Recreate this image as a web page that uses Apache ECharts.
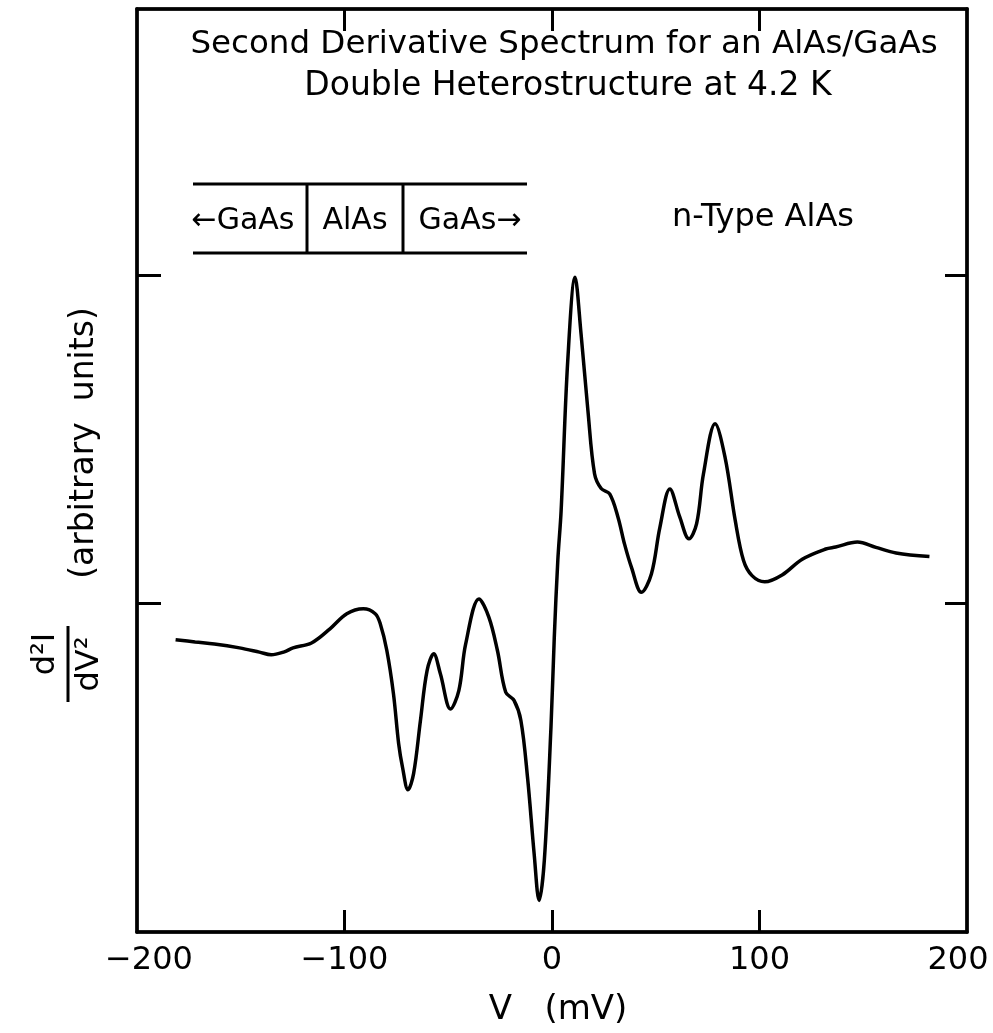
<!DOCTYPE html>
<html>
<head>
<meta charset="utf-8">
<script src="https://cdn.jsdelivr.net/npm/echarts@6/dist/echarts.min.js"></script>
<style>
html,body{margin:0;padding:0;background:#fff;overflow:hidden;}
#chart{width:993px;height:1033px;}
</style>
</head>
<body>
<div id="chart"></div>
<script>
// Bias voltage (mV)
var voltage = [-181.4,-172,-162.7,-150.6,-141,-135.3,-129,-124.8,-115.9,-107,-98.9,-90.9,-85.2,-82.8,-79.6,-76.4,-73.9,-72,-69.4,-66.7,-63.4,-60.2,-57,-53.8,-48.9,-44.9,-41.6,-35.2,-30.4,-26.3,-22.3,-18.3,-15,-11.8,-8.6,-6.2,-3.7,-0.5,1.1,2.8,4.4,7.6,11.1,14,17.3,20.5,23.7,27.8,31.8,35,38.3,43.1,47.9,52,56.8,61.6,66,69.7,73,78.6,83.4,88.3,92.3,96.4,102.5,110.9,120.6,131.9,136.7,147.2,156.1,165.8,181.9];
// d2I/dV2 (arbitrary units)
var d2I = [-0.11,-0.117,-0.123,-0.135,-0.148,-0.156,-0.147,-0.135,-0.12,-0.077,-0.031,-0.016,-0.031,-0.061,-0.143,-0.275,-0.427,-0.5,-0.567,-0.518,-0.356,-0.204,-0.153,-0.214,-0.321,-0.265,-0.123,0.014,-0.042,-0.143,-0.27,-0.295,-0.356,-0.529,-0.762,-0.904,-0.782,-0.377,-0.103,0.131,0.283,0.74,0.993,0.821,0.588,0.395,0.35,0.334,0.263,0.18,0.11,0.034,0.09,0.232,0.349,0.263,0.197,0.243,0.395,0.547,0.445,0.253,0.131,0.085,0.066,0.087,0.135,0.166,0.172,0.187,0.171,0.154,0.143];
var xTickValues = [-200,-100,0,100,200];
var xTickLabels = ['\u2212200','\u2212100','0','100','200'];
var yTickValues = [0,1];
var titleLines = ['Second Derivative Spectrum for an AlAs/GaAs','Double Heterostructure at 4.2 K'];
var insetLabels = ['\u2190GaAs','AlAs','GaAs\u2192'];
var typeLabel = 'n-Type AlAs';
var xName = 'V   (mV)';
var yName = '(arbitrary  units)';

var FONT = '"DejaVu Sans", sans-serif';
var data = voltage.map(function(v,i){return [v, d2I[i]];});

var chart = echarts.init(document.getElementById('chart'), null, {renderer:'canvas'});
function txt(s, x, y, size, rot, align){
  return {type:'text', x:x, y:y, rotation:rot||0, z:10,
    style:{text:s, fill:'#000', font:size+'px '+FONT, textAlign:align||'center', textVerticalAlign:'middle'}};
}
function ln(x1,y1,x2,y2,w){
  return {type:'line', z:10, shape:{x1:x1,y1:y1,x2:x2,y2:y2}, style:{stroke:'#000', lineWidth:w||3}};
}
var labelStyles = ['l','n','n','n','r'];
var axisCommon = {min:-200, max:200, interval:100};
var richBase = {color:'#000', fontSize:32, fontFamily:FONT};
var option = {
  animation:false,
  backgroundColor:'#fff',
  grid:{left:137, right:26, top:9, bottom:101, show:true, borderColor:'#000', borderWidth:3,
    outerBoundsMode:'none', containLabel:false},
  xAxis:[
    Object.assign({type:'value', position:'bottom',
      axisLine:{show:true, onZero:false, lineStyle:{color:'#000', width:3.5}},
      axisTick:{show:true, inside:true, length:22, lineStyle:{color:'#000', width:3}, customValues:[-100,0,100]},
      axisLabel:{show:true, color:'#000', fontSize:32, fontFamily:FONT, margin:13,
        customValues:xTickValues,
        formatter:function(v){var k=xTickValues.indexOf(v); return k>=0?('{'+labelStyles[k]+'|'+xTickLabels[k]+'}'):'';},
        rich:{
          l:Object.assign({padding:[0,0,0,24]}, richBase),
          n:Object.assign({}, richBase),
          r:Object.assign({padding:[0,18,0,0]}, richBase)
        }},
      splitLine:{show:false}}, axisCommon),
    Object.assign({type:'value', position:'top',
      axisLine:{show:true, onZero:false, lineStyle:{color:'#000', width:3.5}},
      axisTick:{show:true, inside:true, length:22, lineStyle:{color:'#000', width:3}, customValues:[-100,0,100]},
      axisLabel:{show:false}, splitLine:{show:false}}, axisCommon)
  ],
  yAxis:[
    {type:'value', position:'left', min:-1, max:1.81, interval:1,
      axisLine:{show:true, onZero:false, lineStyle:{color:'#000', width:3.5}},
      axisTick:{show:true, inside:true, length:24, lineStyle:{color:'#000', width:3}, customValues:yTickValues},
      axisLabel:{show:false}, splitLine:{show:false}},
    {type:'value', position:'right', min:-1, max:1.81, interval:1,
      axisLine:{show:true, onZero:false, lineStyle:{color:'#000', width:3.5}},
      axisTick:{show:true, inside:true, length:22, lineStyle:{color:'#000', width:3}, customValues:yTickValues},
      axisLabel:{show:false}, splitLine:{show:false}}
  ],
  series:[{type:'line', xAxisIndex:0, yAxisIndex:0, data:data, smooth:0.35, showSymbol:false,
    lineStyle:{color:'#000', width:3.5}}],
  graphic:[
    txt(titleLines[0], 564, 45, 32.5),
    txt(titleLines[1], 568, 86, 33),
    ln(193,184,527,184), ln(193,253,527,253), ln(307,184,307,253), ln(403,184,403,253),
    txt(insetLabels[0], 243, 221, 30),
    txt(insetLabels[1], 355, 221, 30),
    txt(insetLabels[2], 470, 221, 30),
    txt(typeLabel, 763, 218, 32),
    txt(yName, 84, 443, 33, Math.PI/2),
    txt('d\u00b2I', 46, 654, 32, Math.PI/2),
    ln(68,626,68,702,3),
    txt('dV\u00b2', 90, 664, 32, Math.PI/2),
    txt(xName, 558, 1010, 34)
  ]
};
chart.setOption(option);
</script>
</body>
</html>
